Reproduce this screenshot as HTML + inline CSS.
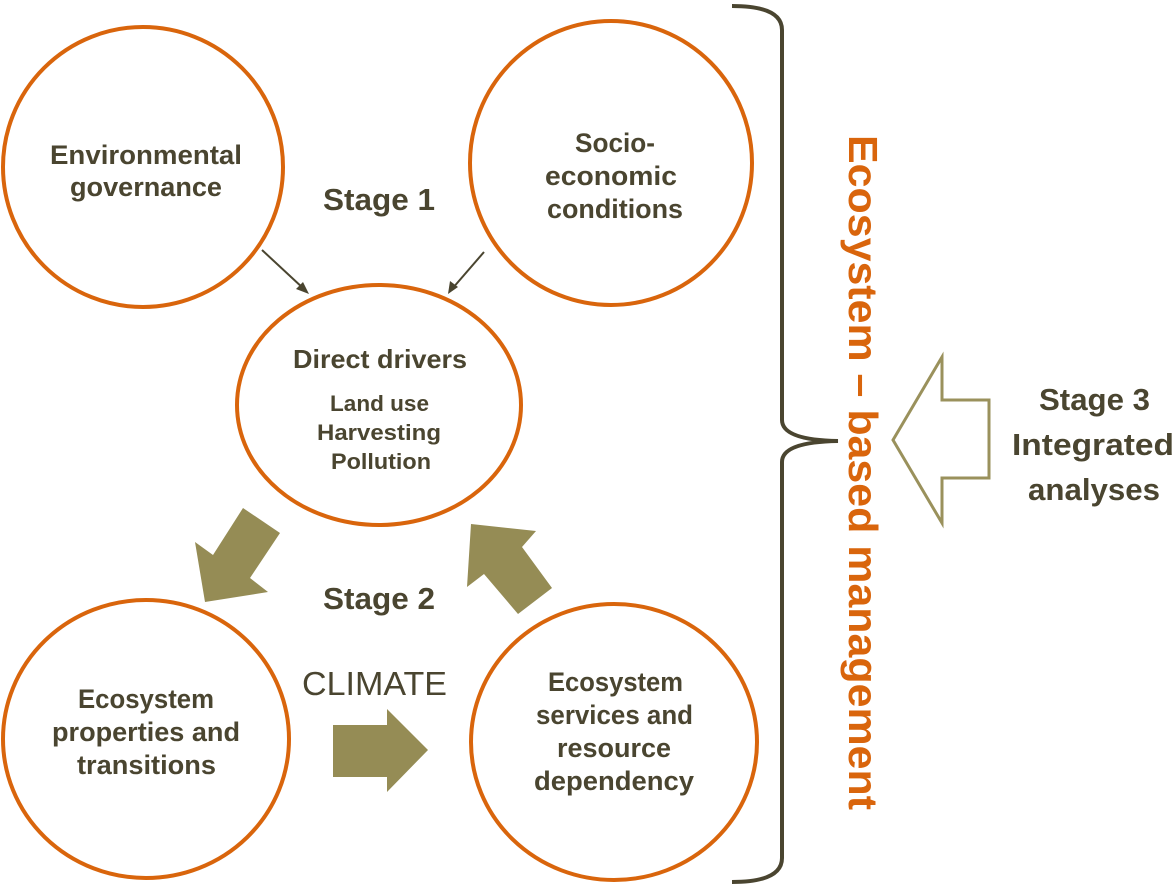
<!DOCTYPE html>
<html><head><style>
body{margin:0;background:#fff;width:1174px;height:885px;overflow:hidden}
</style></head><body>
<svg width="1174" height="885" viewBox="0 0 1174 885" xmlns="http://www.w3.org/2000/svg" font-family="Liberation Sans, sans-serif">
<g fill="#fff" stroke="#d9650c" stroke-width="4">
<ellipse cx="143" cy="167" rx="140" ry="140"/>
<ellipse cx="611" cy="163" rx="141" ry="142"/>
<ellipse cx="379" cy="405" rx="142" ry="120"/>
<ellipse cx="146" cy="739" rx="143" ry="139"/>
<ellipse cx="614" cy="742" rx="143" ry="138"/>
</g>
<g fill="#958c55">
<polygon points="243,508 280,533 250,578 268,592 205,602 195,542 213,555"/>
<polygon points="471,524 536,531 522,547 552,588 518,614 484,574 467,587"/>
<polygon points="333,725 387,725 387,709 428,750 387,792 387,777 333,777"/>
</g>
<polygon points="893,440 942,357 942,400 989,400 989,478 942,478 942,523" fill="#fff" stroke="#9a915c" stroke-width="3"/>
<g stroke="#4a4530" stroke-width="2" fill="#4a4530">
<line x1="262" y1="250" x2="304" y2="289"/>
<polygon points="309,294 296,289 303,282" stroke="none"/>
<line x1="484" y1="252" x2="452" y2="289"/>
<polygon points="448,294 450,281 458,287" stroke="none"/>
</g>
<path d="M732,6 Q782,6 782,30 L782,420 Q782,440 838,441 Q782,442 782,462 L782,858 Q782,882 732,882" fill="none" stroke="#4a4530" stroke-width="4"/>
<g fill="#4a4530" font-weight="bold" font-size="27">
<text x="50" y="164" textLength="192" lengthAdjust="spacingAndGlyphs">Environmental</text>
<text x="70" y="196" textLength="152" lengthAdjust="spacingAndGlyphs">governance</text>
<text x="575" y="152" textLength="80" lengthAdjust="spacingAndGlyphs">Socio-</text>
<text x="545" y="185" textLength="132" lengthAdjust="spacingAndGlyphs">economic</text>
<text x="547" y="218" textLength="136" lengthAdjust="spacingAndGlyphs">conditions</text>
<text x="323" y="210" font-size="31" textLength="112" lengthAdjust="spacingAndGlyphs">Stage 1</text>
<text x="293" y="368" font-size="26" textLength="174" lengthAdjust="spacingAndGlyphs">Direct drivers</text>
<text x="330" y="411" font-size="22" textLength="99" lengthAdjust="spacingAndGlyphs">Land use</text>
<text x="317" y="440" font-size="22" textLength="124" lengthAdjust="spacingAndGlyphs">Harvesting</text>
<text x="331" y="469" font-size="22" textLength="100" lengthAdjust="spacingAndGlyphs">Pollution</text>
<text x="323" y="609" font-size="31" textLength="112" lengthAdjust="spacingAndGlyphs">Stage 2</text>
<text x="78" y="708" textLength="136" lengthAdjust="spacingAndGlyphs">Ecosystem</text>
<text x="52" y="741" textLength="188" lengthAdjust="spacingAndGlyphs">properties and</text>
<text x="77" y="774" textLength="139" lengthAdjust="spacingAndGlyphs">transitions</text>
<text x="548" y="691" textLength="135" lengthAdjust="spacingAndGlyphs">Ecosystem</text>
<text x="536" y="724" textLength="157" lengthAdjust="spacingAndGlyphs">services and</text>
<text x="557" y="757" textLength="114" lengthAdjust="spacingAndGlyphs">resource</text>
<text x="534" y="790" textLength="160" lengthAdjust="spacingAndGlyphs">dependency</text>
<text x="1039" y="410" font-size="31" textLength="111" lengthAdjust="spacingAndGlyphs">Stage 3</text>
<text x="1012" y="455" font-size="31" textLength="162" lengthAdjust="spacingAndGlyphs">Integrated</text>
<text x="1028" y="500" font-size="31" textLength="132" lengthAdjust="spacingAndGlyphs">analyses</text>
<text x="302" y="695" font-weight="normal" font-size="33" textLength="145" lengthAdjust="spacingAndGlyphs">CLIMATE</text>
</g>
<text transform="translate(849,135) rotate(90)" font-weight="bold" font-size="41" fill="#d9650c" textLength="675" lengthAdjust="spacingAndGlyphs">Ecosystem – based management</text>
</svg>
</body></html>
